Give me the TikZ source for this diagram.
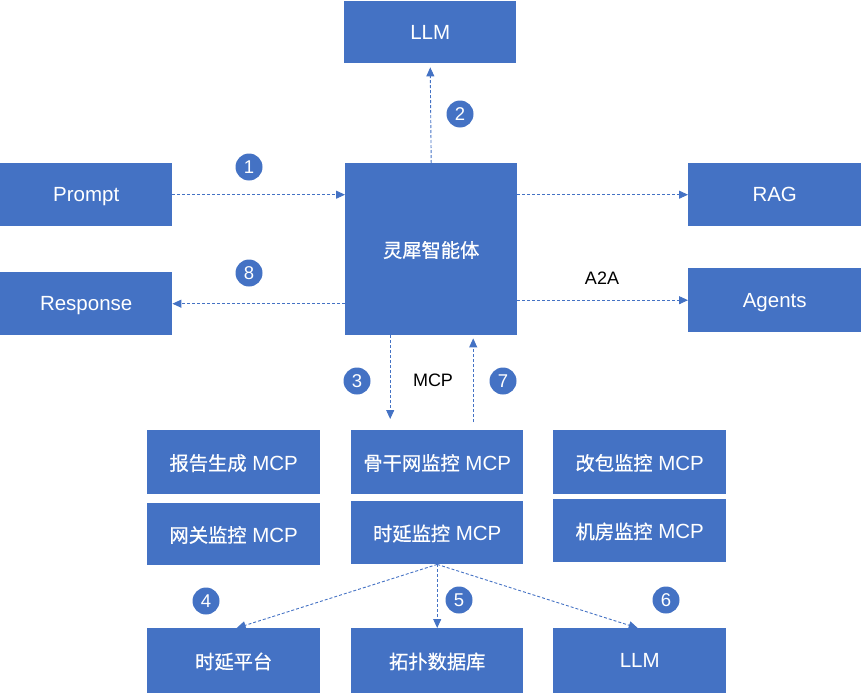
\documentclass[tikz,border=0pt]{standalone}
\usepackage{fontspec}
\setmainfont{Liberation Sans}
\newfontfamily\cjk{Noto Sans CJK SC}[FakeBold=0.7, Scale=0.94]
\usetikzlibrary{arrows.meta}
\definecolor{boxblue}{HTML}{4472C4}
\begin{document}
\begin{tikzpicture}[x=1pt,y=-1pt,
  box/.style={fill=boxblue, draw=none, text=white, font=\fontsize{20.5}{24}\selectfont, inner sep=0pt, anchor=north west, text depth=0pt},
  num/.style={circle, fill=boxblue, text=white, minimum size=27pt, inner sep=0pt, font=\fontsize{18.5}{20}\selectfont},
  conn/.style={draw=boxblue, dash pattern=on 3pt off 2pt, line width=0.9pt, -{Triangle[length=9pt,width=8pt]}},
  lbl/.style={font=\fontsize{18}{22}\selectfont, text=black}]
\useasboundingbox (0,0) rectangle (861,693);
% top row
\node[box, minimum width=172pt, minimum height=62pt] (llm) at (344,1) {LLM};
\node[box, minimum width=172pt, minimum height=63pt] (prompt) at (0,163) {Prompt};
\node[box, minimum width=172pt, minimum height=63pt] (response) at (0,272) {Response};
\node[box, minimum width=172pt, minimum height=172pt] (agent) at (345,163) {\cjk 灵犀智能体};
\node[box, minimum width=173pt, minimum height=63pt] (rag) at (688,163) {RAG};
\node[box, minimum width=173pt, minimum height=64pt] (agents) at (688,268) {Agents};
% MCP servers
\node[box, minimum width=173pt, minimum height=64pt] (bg) at (147,430) {{\cjk 报告生成} MCP};
\node[box, minimum width=172pt, minimum height=64pt] (gg) at (351,430) {{\cjk 骨干网监控} MCP};
\node[box, minimum width=173pt, minimum height=64pt] (gb) at (553,430) {{\cjk 改包监控} MCP};
\node[box, minimum width=173pt, minimum height=62pt] (wg) at (147,503) {{\cjk 网关监控} MCP};
\node[box, minimum width=172pt, minimum height=63pt] (sy) at (351,501) {{\cjk 时延监控} MCP};
\node[box, minimum width=173pt, minimum height=63pt] (jf) at (553,499) {{\cjk 机房监控} MCP};
% bottom row
\node[box, minimum width=173pt, minimum height=65pt] (pt) at (147,628) {\cjk 时延平台};
\node[box, minimum width=172pt, minimum height=65pt] (tp) at (351,628) {\cjk 拓扑数据库};
\node[box, minimum width=173pt, minimum height=65pt] (llmb) at (553,628) {LLM};
% connectors
\draw[conn] (prompt.east) -- (prompt.east -| agent.west);
\draw[conn] (response.east -| agent.west) -- (response.east);
\draw[conn, shorten >=4pt] (agent.north) -- (llm.south);
\draw[conn] (rag.west -| agent.east) -- (rag.west);
\draw[conn] (agents.west -| agent.east) -- (agents.west);
\draw[conn, shorten >=11pt] ([xshift=-41pt]agent.south) -- ([xshift=-41pt]agent.south |- gg.north);
\draw[conn, shorten <=8pt, shorten >=3pt] ([xshift=36pt]gg.north) -- ([xshift=36pt]gg.north |- agent.south);
\draw[conn] (sy.south) -- ([xshift=3pt]pt.north);
\draw[conn] (sy.south) -- (tp.north);
\draw[conn] (sy.south) -- ([xshift=-2pt]llmb.north);
% labels
\node[lbl] (a2a) at (602,278) {A2A};
\node[lbl] (mcp) at (433,380) {MCP};
\node[num] (n1) at (249,167) {1};
\node[num] (n2) at (460,114) {2};
\node[num] (n3) at (357,381) {3};
\node[num] (n4) at (206,601) {4};
\node[num] (n5) at (459,600) {5};
\node[num] (n6) at (666,600) {6};
\node[num] (n7) at (503,381) {7};
\node[num] (n8) at (249,273) {8};
\end{tikzpicture}
\end{document}
